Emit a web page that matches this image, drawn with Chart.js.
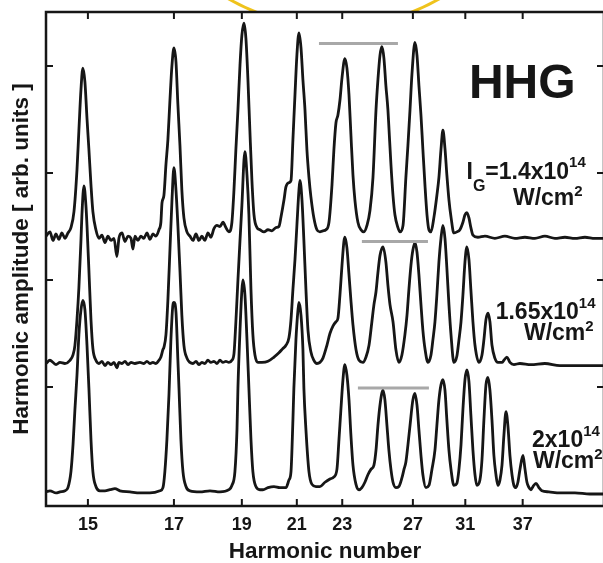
<!DOCTYPE html>
<html>
<head>
<meta charset="utf-8">
<script src="https://cdn.jsdelivr.net/npm/chart.js@4.4.1/dist/chart.umd.min.js"></script>
<style>
  html, body { margin: 0; padding: 0; overflow: hidden; background: #fff; }
  #wrap { width: 610px; height: 563px; }
</style>
</head>
<body>
<div id="wrap"><canvas id="hhgChart" width="610" height="563"></canvas></div>
<script>
// x values are wavelength in nm (800 nm driver), y values are amplitude in arb. units
const fundamentalNm = 800;
const harmonicTicks = [15, 17, 19, 21, 23, 27, 31, 37];
const amplitudeTicks = [1, 2, 3, 4];

// I_G = 1.4x10^14 W/cm2 (top trace)
const spectrumLow = [
  [56.39, 2.41], [56.10, 2.45], [55.88, 2.37], [55.66, 2.43], [55.45, 2.38], [55.23, 2.44],
  [55.01, 2.39], [54.79, 2.44], [54.57, 2.49], [54.35, 2.64], [54.13, 3.03], [53.99, 3.40],
  [53.84, 3.78], [53.70, 3.98], [53.55, 3.85], [53.40, 3.51], [53.26, 3.22], [53.11, 2.89],
  [52.97, 2.64], [52.75, 2.47], [52.53, 2.39], [52.31, 2.42], [52.09, 2.35], [51.87, 2.41],
  [51.65, 2.37], [51.43, 2.39], [51.22, 2.22], [51.07, 2.39], [50.85, 2.44], [50.63, 2.36],
  [50.41, 2.41], [50.19, 2.39], [50.05, 2.29], [49.90, 2.41], [49.68, 2.37], [49.47, 2.41],
  [49.25, 2.39], [49.03, 2.44], [48.81, 2.38], [48.59, 2.43], [48.37, 2.41], [48.15, 2.47],
  [48.01, 2.54], [47.93, 2.72], [47.79, 2.79], [47.64, 3.08], [47.50, 3.31], [47.35, 3.68],
  [47.20, 4.01], [47.06, 4.17], [46.91, 4.04], [46.77, 3.64], [46.62, 3.26], [46.48, 2.84],
  [46.33, 2.58], [46.11, 2.45], [45.89, 2.41], [45.67, 2.37], [45.45, 2.43], [45.24, 2.37],
  [45.02, 2.41], [44.80, 2.37], [44.58, 2.44], [44.36, 2.40], [44.14, 2.48], [43.92, 2.51],
  [43.70, 2.50], [43.48, 2.54], [43.27, 2.49], [43.05, 2.45], [42.83, 2.54], [42.68, 2.84],
  [42.54, 3.22], [42.39, 3.59], [42.24, 4.01], [42.10, 4.29], [41.95, 4.40], [41.81, 4.26],
  [41.66, 3.87], [41.52, 3.40], [41.37, 2.93], [41.22, 2.61], [41.00, 2.49], [40.79, 2.47],
  [40.49, 2.45], [40.20, 2.47], [39.91, 2.46], [39.62, 2.49], [39.40, 2.50], [39.25, 2.59],
  [39.03, 2.75], [38.89, 2.87], [38.67, 2.91], [38.52, 2.93], [38.38, 3.31], [38.23, 3.73],
  [38.09, 4.10], [37.94, 4.31], [37.79, 4.17], [37.65, 3.87], [37.50, 3.59], [37.36, 3.22],
  [37.21, 2.96], [37.07, 2.78], [36.85, 2.58], [36.63, 2.47], [36.41, 2.45], [36.19, 2.46],
  [35.97, 2.47], [35.75, 2.54], [35.53, 2.89], [35.39, 3.22], [35.24, 3.47], [35.10, 3.54],
  [34.95, 3.68], [34.80, 3.89], [34.59, 4.07], [34.44, 3.98], [34.29, 3.73], [34.15, 3.36],
  [34.00, 2.98], [33.86, 2.75], [33.64, 2.54], [33.42, 2.47], [33.20, 2.45], [32.98, 2.51],
  [32.76, 2.65], [32.54, 2.96], [32.32, 3.59], [32.18, 3.87], [32.03, 4.10], [31.89, 4.18],
  [31.74, 4.07], [31.60, 3.82], [31.45, 3.59], [31.38, 3.43], [31.23, 3.08], [31.08, 2.79],
  [30.94, 2.61], [30.72, 2.49], [30.57, 2.45], [30.35, 2.51], [30.14, 2.96], [29.99, 3.26],
  [29.84, 3.59], [29.70, 3.92], [29.48, 4.22], [29.33, 4.10], [29.19, 3.82], [29.04, 3.54],
  [28.90, 3.22], [28.75, 2.89], [28.60, 2.61], [28.46, 2.47], [28.31, 2.45], [28.09, 2.59],
  [27.88, 2.79], [27.73, 2.96], [27.58, 3.22], [27.44, 3.40], [27.29, 3.23], [27.15, 2.98],
  [27.00, 2.75], [26.85, 2.59], [26.64, 2.44], [26.42, 2.45], [26.20, 2.47], [25.98, 2.54],
  [25.83, 2.61], [25.69, 2.63], [25.54, 2.58], [25.40, 2.49], [25.25, 2.42], [24.89, 2.40],
  [24.37, 2.41], [23.65, 2.39], [22.92, 2.41], [22.19, 2.39], [21.46, 2.40], [20.73, 2.39],
  [20.00, 2.41], [19.27, 2.39], [18.54, 2.40], [17.81, 2.39], [17.08, 2.40], [16.35, 2.39],
  [15.69, 2.39]
];

// 1.65x10^14 W/cm2 (middle trace)
const spectrumMid = [
  [56.39, 1.22], [56.10, 1.25], [55.66, 1.21], [55.37, 1.23], [55.01, 1.22], [54.64, 1.25],
  [54.42, 1.30], [54.28, 1.39], [54.13, 1.63], [53.99, 1.93], [53.84, 2.37], [53.77, 2.61],
  [53.62, 2.88], [53.48, 2.70], [53.40, 2.51], [53.26, 2.09], [53.11, 1.63], [52.97, 1.36],
  [52.75, 1.25], [52.53, 1.22], [52.31, 1.24], [52.09, 1.20], [51.87, 1.23], [51.65, 1.21],
  [51.43, 1.23], [51.22, 1.18], [51.07, 1.23], [50.85, 1.22], [50.63, 1.24], [50.41, 1.21],
  [50.19, 1.23], [49.90, 1.22], [49.54, 1.23], [49.25, 1.22], [49.03, 1.24], [48.81, 1.22],
  [48.59, 1.23], [48.37, 1.22], [48.15, 1.25], [48.01, 1.28], [47.86, 1.35], [47.79, 1.37],
  [47.64, 1.49], [47.50, 1.81], [47.35, 2.28], [47.20, 2.75], [47.06, 3.05], [46.91, 2.84],
  [46.77, 2.51], [46.62, 2.09], [46.48, 1.67], [46.33, 1.39], [46.11, 1.27], [45.89, 1.23],
  [45.67, 1.22], [45.45, 1.24], [45.24, 1.21], [45.02, 1.23], [44.80, 1.22], [44.58, 1.25],
  [44.36, 1.23], [44.14, 1.24], [43.92, 1.22], [43.70, 1.25], [43.48, 1.23], [43.27, 1.24],
  [43.05, 1.23], [42.83, 1.25], [42.68, 1.31], [42.54, 1.61], [42.39, 2.00], [42.24, 2.37],
  [42.10, 2.70], [41.95, 3.12], [41.88, 3.20], [41.73, 2.98], [41.59, 2.61], [41.44, 1.91],
  [41.30, 1.49], [41.15, 1.30], [40.93, 1.23], [40.64, 1.23], [40.20, 1.24], [39.76, 1.28],
  [39.40, 1.32], [39.11, 1.36], [38.89, 1.39], [38.67, 1.46], [38.52, 1.63], [38.38, 1.91],
  [38.23, 2.19], [38.09, 2.51], [37.94, 2.84], [37.87, 2.93], [37.72, 2.75], [37.58, 2.37],
  [37.43, 1.91], [37.28, 1.53], [37.07, 1.33], [36.85, 1.25], [36.63, 1.22], [36.41, 1.23],
  [36.19, 1.27], [35.90, 1.39], [35.68, 1.50], [35.46, 1.57], [35.24, 1.61], [35.10, 1.64],
  [34.95, 1.86], [34.80, 2.14], [34.66, 2.36], [34.59, 2.40], [34.44, 2.30], [34.29, 2.05],
  [34.15, 1.81], [34.00, 1.58], [33.78, 1.35], [33.56, 1.25], [33.27, 1.23], [33.05, 1.28],
  [32.83, 1.39], [32.62, 1.61], [32.47, 1.77], [32.32, 1.89], [32.18, 2.07], [32.03, 2.23],
  [31.81, 2.31], [31.60, 2.17], [31.45, 1.95], [31.30, 1.77], [31.08, 1.61], [30.87, 1.35],
  [30.65, 1.23], [30.43, 1.30], [30.21, 1.49], [30.06, 1.67], [29.92, 1.91], [29.77, 2.14],
  [29.63, 2.28], [29.48, 2.35], [29.33, 2.26], [29.19, 2.05], [29.04, 1.77], [28.90, 1.53],
  [28.75, 1.36], [28.53, 1.23], [28.31, 1.30], [28.17, 1.44], [28.02, 1.61], [27.88, 1.86],
  [27.73, 2.17], [27.58, 2.39], [27.44, 2.51], [27.29, 2.39], [27.15, 2.11], [27.00, 1.77],
  [26.85, 1.49], [26.64, 1.23], [26.42, 1.29], [26.27, 1.44], [26.12, 1.61], [25.98, 1.86],
  [25.83, 2.17], [25.69, 2.31], [25.54, 2.19], [25.40, 1.91], [25.25, 1.61], [25.10, 1.39],
  [24.81, 1.23], [24.59, 1.30], [24.45, 1.44], [24.30, 1.63], [24.15, 1.69], [24.01, 1.61],
  [23.86, 1.39], [23.65, 1.27], [23.43, 1.23], [23.13, 1.23], [22.99, 1.25], [22.77, 1.28],
  [22.55, 1.23], [22.26, 1.21], [21.82, 1.22], [21.02, 1.21], [20.00, 1.22], [18.90, 1.20],
  [17.81, 1.20], [16.72, 1.20], [15.69, 1.20]
];

// 2x10^14 W/cm2 (bottom trace)
const spectrumHigh = [
  [56.39, 0.02], [56.10, 0.03], [55.66, 0.01], [55.37, 0.02], [55.01, 0.03], [54.79, 0.06],
  [54.57, 0.21], [54.42, 0.46], [54.28, 0.79], [54.13, 1.11], [53.99, 1.49], [53.84, 1.72],
  [53.70, 1.81], [53.55, 1.72], [53.40, 1.39], [53.26, 0.99], [53.11, 0.51], [52.97, 0.21],
  [52.75, 0.07], [52.46, 0.03], [52.09, 0.03], [51.73, 0.04], [51.36, 0.05], [51.00, 0.03],
  [50.27, 0.02], [49.54, 0.01], [48.81, 0.01], [48.08, 0.03], [47.86, 0.06], [47.72, 0.21],
  [47.57, 0.51], [47.42, 0.93], [47.28, 1.44], [47.13, 1.77], [47.06, 1.79], [46.91, 1.70],
  [46.77, 1.25], [46.69, 0.99], [46.55, 0.51], [46.40, 0.21], [46.18, 0.07], [45.89, 0.03],
  [45.16, 0.02], [44.43, 0.03], [43.70, 0.02], [43.05, 0.04], [42.83, 0.08], [42.61, 0.21],
  [42.46, 0.60], [42.39, 0.99], [42.24, 1.53], [42.10, 1.91], [42.03, 2.00], [41.88, 1.86],
  [41.73, 1.44], [41.59, 0.99], [41.44, 0.51], [41.30, 0.21], [41.08, 0.07], [40.79, 0.04],
  [40.57, 0.04], [40.20, 0.06], [39.76, 0.07], [39.33, 0.06], [38.89, 0.06], [38.67, 0.13],
  [38.52, 0.21], [38.38, 0.69], [38.31, 0.99], [38.16, 1.44], [38.01, 1.72], [37.94, 1.79],
  [37.79, 1.67], [37.65, 1.35], [37.58, 0.99], [37.43, 0.60], [37.21, 0.21], [36.99, 0.09],
  [36.70, 0.07], [36.41, 0.07], [36.04, 0.11], [35.68, 0.14], [35.39, 0.16], [35.17, 0.23],
  [35.02, 0.51], [34.88, 0.79], [34.73, 1.07], [34.59, 1.21], [34.44, 1.11], [34.29, 0.88],
  [34.15, 0.55], [34.00, 0.27], [33.78, 0.09], [33.56, 0.04], [33.35, 0.06], [33.13, 0.11],
  [32.91, 0.18], [32.69, 0.23], [32.47, 0.27], [32.32, 0.41], [32.18, 0.64], [32.03, 0.83],
  [31.81, 0.97], [31.67, 0.88], [31.52, 0.64], [31.38, 0.41], [31.23, 0.23], [31.08, 0.11],
  [30.87, 0.06], [30.65, 0.07], [30.43, 0.15], [30.28, 0.23], [30.14, 0.30], [29.99, 0.46],
  [29.84, 0.64], [29.63, 0.88], [29.48, 0.94], [29.33, 0.83], [29.19, 0.60], [29.04, 0.36],
  [28.90, 0.18], [28.68, 0.06], [28.46, 0.08], [28.24, 0.23], [28.02, 0.41], [27.88, 0.64],
  [27.73, 0.88], [27.58, 1.02], [27.44, 1.07], [27.29, 0.97], [27.15, 0.69], [27.00, 0.41],
  [26.85, 0.23], [26.64, 0.08], [26.42, 0.10], [26.27, 0.23], [26.12, 0.46], [25.98, 0.79],
  [25.83, 1.07], [25.69, 1.16], [25.54, 1.05], [25.40, 0.74], [25.25, 0.41], [25.10, 0.18],
  [24.96, 0.08], [24.74, 0.13], [24.59, 0.32], [24.45, 0.69], [24.30, 1.02], [24.15, 1.09],
  [24.01, 0.97], [23.86, 0.69], [23.72, 0.36], [23.57, 0.18], [23.43, 0.08], [23.28, 0.13],
  [23.13, 0.27], [22.99, 0.55], [22.84, 0.77], [22.70, 0.64], [22.55, 0.36], [22.40, 0.18],
  [22.26, 0.08], [22.11, 0.06], [21.97, 0.11], [21.82, 0.23], [21.60, 0.36], [21.46, 0.24],
  [21.31, 0.11], [21.16, 0.06], [21.02, 0.04], [20.87, 0.07], [20.65, 0.10], [20.44, 0.06],
  [20.22, 0.03], [19.71, 0.02], [18.90, 0.01], [17.81, 0.01], [16.72, 0.00], [15.69, 0.00]
];

// grey plateau markers
const plateauLow = [[36.48, 4.21], [30.72, 4.21]];
const plateauMid = [[33.35, 2.36], [28.53, 2.36]];
const plateauHigh = [[33.64, 0.99], [28.46, 0.99]];

const FONT = '"Liberation Sans", Arial, Helvetica, sans-serif';
const INK = '#161616';

// text labels: anchor in data units, pieces as [text, size, dy]
const notes = [
  { x: 25.54, y: 3.70, parts: [['HHG', 48, 0]] },
  { x: 25.72, y: 2.94, parts: [['I', 23, 0], ['G', 16, 12], ['=1.4x10', 23, 0], ['14', 15, -12]] },
  { x: 22.33, y: 2.70, parts: [['W/cm', 23, 0], ['2', 15, -9]] },
  { x: 23.59, y: 1.64, parts: [['1.65x10', 23, 0], ['14', 15, -11]] },
  { x: 21.53, y: 1.44, parts: [['W/cm', 23, 0], ['2', 15, -9]] },
  { x: 20.94, y: 0.44, parts: [['2x10', 23, 0], ['14', 15, -11]] },
  { x: 20.87, y: 0.24, parts: [['W/cm', 23, 0], ['2', 15, -9]] }
];

const paperPlugin = {
  id: 'paper',
  beforeDraw(chart) {
    const { ctx, chartArea: a, width, height } = chart;
    ctx.save();
    ctx.fillStyle = '#fff';
    ctx.fillRect(0, 0, width, height);
    // yellow ring peeking over the top of the frame
    ctx.beginPath();
    ctx.rect(0, 0, width, a.top);
    ctx.clip();
    ctx.strokeStyle = '#efc31c';
    ctx.lineWidth = 3;
    ctx.beginPath();
    ctx.arc(a.left + (a.right - a.left) * 0.516, a.top - 196, 211, 0, Math.PI * 2);
    ctx.stroke();
    ctx.restore();
  },
  afterDraw(chart) {
    const { ctx, chartArea: a, scales } = chart;
    ctx.save();
    ctx.strokeStyle = INK;
    ctx.lineWidth = 2.5;
    ctx.strokeRect(a.left, a.top, a.right - a.left, a.bottom - a.top);
    ctx.lineWidth = 2;
    ctx.beginPath();
    harmonicTicks.forEach(n => {
      const px = scales.x.getPixelForValue(fundamentalNm / n);
      ctx.moveTo(px, a.bottom); ctx.lineTo(px, a.bottom - 7);
      ctx.moveTo(px, a.top); ctx.lineTo(px, a.top + 7);
    });
    amplitudeTicks.forEach(v => {
      const py = scales.y.getPixelForValue(v);
      ctx.moveTo(a.left, py); ctx.lineTo(a.left + 7, py);
      ctx.moveTo(a.right, py); ctx.lineTo(a.right - 7, py);
    });
    ctx.stroke();

    ctx.fillStyle = INK;
    ctx.textBaseline = 'alphabetic';
    ctx.textAlign = 'left';
    notes.forEach(note => {
      let px = scales.x.getPixelForValue(note.x);
      const py = scales.y.getPixelForValue(note.y);
      note.parts.forEach(([text, size, dy]) => {
        ctx.font = 'bold ' + size + 'px ' + FONT;
        ctx.fillText(text, px, py + dy);
        px += ctx.measureText(text).width;
      });
    });
    ctx.restore();
  }
};

function trace(data) {
  return {
    data: data,
    borderColor: INK,
    borderWidth: 2.8,
    pointRadius: 0,
    fill: false,
    cubicInterpolationMode: 'monotone'
  };
}

function plateau(data) {
  return {
    data: data,
    borderColor: '#a8a8a8',
    borderWidth: 3,
    pointRadius: 0,
    fill: false
  };
}

const ctx = document.getElementById('hhgChart').getContext('2d');
const hhgChart = new Chart(ctx, {
  type: 'line',
  data: {
    datasets: [
      plateau(plateauLow), plateau(plateauMid), plateau(plateauHigh),
      trace(spectrumLow), trace(spectrumMid), trace(spectrumHigh)
    ]
  },
  options: {
    responsive: false,
    animation: false,
    layout: { padding: { top: 12, right: 6, left: 0, bottom: 0 } },
    plugins: { legend: { display: false }, tooltip: { enabled: false } },
    scales: {
      x: {
        type: 'linear',
        reverse: true,
        min: 15.69,
        max: 56.39,
        afterBuildTicks: s => { s.ticks = harmonicTicks.map(n => ({ value: fundamentalNm / n })); },
        afterFit: s => { s.height = 57; },
        grid: { display: false, drawTicks: false },
        border: { display: false },
        ticks: {
          autoSkip: false,
          maxRotation: 0,
          padding: 8,
          color: INK,
          font: { family: FONT, size: 18, weight: 'bold' },
          callback: v => Math.round(fundamentalNm / v)
        },
        title: {
          display: true,
          text: 'Harmonic number',
          color: INK,
          font: { family: FONT, size: 22.5, weight: 'bold', lineHeight: 1 },
          padding: { top: 0, bottom: 0 }
        }
      },
      y: {
        min: -0.112,
        max: 4.505,
        afterBuildTicks: s => { s.ticks = amplitudeTicks.map(v => ({ value: v })); },
        afterFit: s => { s.width = 46; },
        grid: { display: false, drawTicks: false },
        border: { display: false },
        ticks: { display: false },
        title: {
          display: true,
          text: 'Harmonic amplitude [ arb. units ]',
          color: INK,
          font: { family: FONT, size: 22.5, weight: 'bold', lineHeight: 1 },
          padding: { top: 11, bottom: 0 }
        }
      }
    }
  },
  plugins: [paperPlugin]
});
</script>
</body>
</html>
